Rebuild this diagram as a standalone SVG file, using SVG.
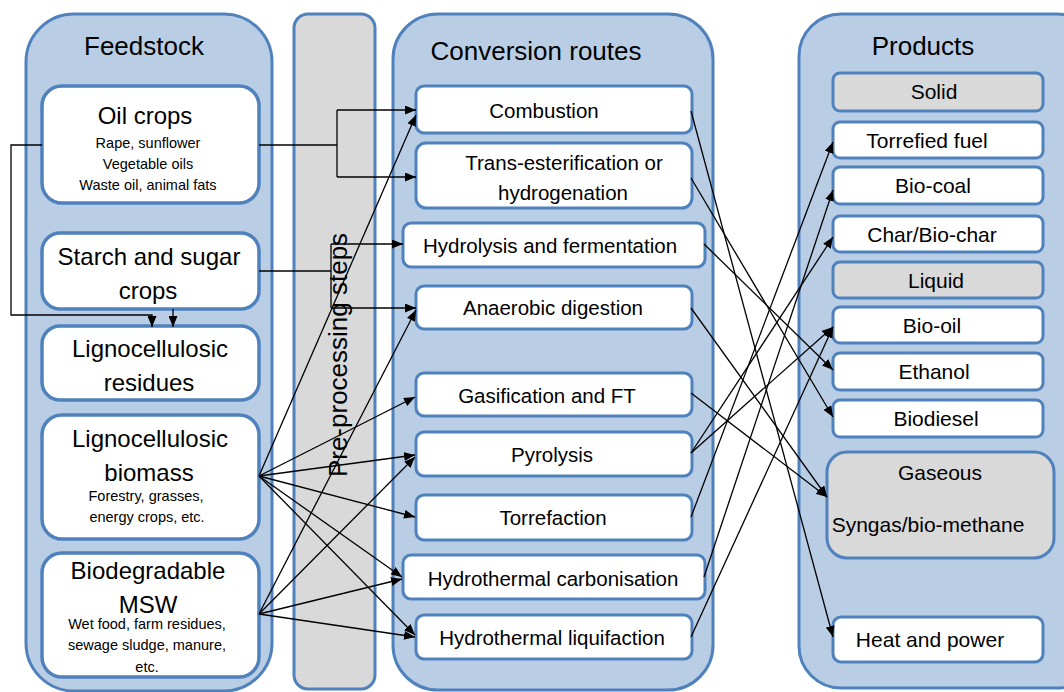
<svg xmlns="http://www.w3.org/2000/svg" width="1064" height="692" viewBox="0 0 1064 692">
<style>
text{font-family:"Liberation Sans",Arial,sans-serif;fill:#000;text-anchor:middle}
.cont{fill:#B9CDE5;stroke:#4F81BD;stroke-width:3}
.pre{fill:#D9D9D9;stroke:#4F81BD;stroke-width:3}
.fn{fill:#fff;stroke:#4F81BD;stroke-width:3.5}
.cn{fill:#fff;stroke:#4F81BD;stroke-width:3}
.pg{fill:#D9D9D9;stroke:#4F81BD;stroke-width:3}
.title{font-size:26px}
.fname{font-size:24px}
.fsub{font-size:14.5px}
.ct{font-size:20.5px}
.pt{font-size:21px}
.ln{fill:none;stroke:#000;stroke-width:1.3}
</style>
<defs>
<marker id="ah" markerWidth="11" markerHeight="9" refX="11" refY="4.5" orient="auto" markerUnits="userSpaceOnUse"><path d="M0,0 L11,4.5 L0,9 z" fill="#000"/></marker>
</defs>
<rect width="1064" height="692" fill="#fff"/>
<g id="feedstock">
<rect class="cont" x="26" y="14" width="246" height="677" rx="48"/>
<text class="title" x="144" y="55">Feedstock</text>
</g>
<g id="preprocessing">
<rect class="pre" x="294" y="14" width="81" height="675" rx="14"/>
<text class="title" transform="translate(347,355) rotate(-90)">Pre-processing steps</text>
</g>
<g id="conversion">
<rect class="cont" x="393" y="14" width="320" height="676" rx="45"/>
<text class="title" x="536" y="60">Conversion routes</text>
</g>
<g id="products">
<rect class="cont" x="799" y="14" width="300" height="674" rx="42"/>
<text class="title" x="923" y="55">Products</text>
</g>
<g id="oil-crops">
<rect class="fn" x="42" y="86" width="217" height="117" rx="20"/>
<text class="fname" x="145" y="124">Oil crops</text>
<text class="fsub" x="148" y="148">Rape, sunflower</text>
<text class="fsub" x="148" y="169">Vegetable oils</text>
<text class="fsub" x="148" y="190">Waste oil, animal fats</text>
</g>
<g id="starch-sugar">
<rect class="fn" x="42" y="233" width="217" height="76" rx="18"/>
<text class="fname" x="149" y="265">Starch and sugar</text>
<text class="fname" x="148" y="299">crops</text>
</g>
<g id="ligno-residues">
<rect class="fn" x="42" y="326" width="217" height="74" rx="18"/>
<text class="fname" x="150" y="357">Lignocellulosic</text>
<text class="fname" x="149" y="391">residues</text>
</g>
<g id="ligno-biomass">
<rect class="fn" x="42" y="415" width="217" height="124" rx="20"/>
<text class="fname" x="150" y="447">Lignocellulosic</text>
<text class="fname" x="149" y="481">biomass</text>
<text class="fsub" x="146" y="501">Forestry, grasses,</text>
<text class="fsub" x="147" y="522">energy crops, etc.</text>
</g>
<g id="msw">
<rect class="fn" x="42" y="553" width="217" height="124" rx="20"/>
<text class="fname" x="148" y="579">Biodegradable</text>
<text class="fname" x="148" y="613">MSW</text>
<text class="fsub" x="147" y="629">Wet food, farm residues,</text>
<text class="fsub" x="147" y="650">sewage sludge, manure,</text>
<text class="fsub" x="147" y="672">etc.</text>
</g>
<g id="combustion">
<rect class="cn" x="416" y="86" width="276" height="47" rx="8"/>
<text class="ct" x="544" y="118">Combustion</text>
</g>
<g id="trans-esterification">
<rect class="cn" x="416" y="143" width="276" height="65" rx="10"/>
<text class="ct" x="564" y="170">Trans-esterification or</text>
<text class="ct" x="563" y="200">hydrogenation</text>
</g>
<g id="hydrolysis">
<rect class="cn" x="403" y="223" width="302" height="44" rx="8"/>
<text class="ct" x="550" y="253">Hydrolysis and fermentation</text>
</g>
<g id="anaerobic">
<rect class="cn" x="416" y="286" width="276" height="43" rx="8"/>
<text class="ct" x="553" y="315">Anaerobic digestion</text>
</g>
<g id="gasification">
<rect class="cn" x="416" y="373" width="276" height="43" rx="8"/>
<text class="ct" x="547" y="403">Gasification and FT</text>
</g>
<g id="pyrolysis">
<rect class="cn" x="416" y="432" width="276" height="44" rx="8"/>
<text class="ct" x="552" y="462">Pyrolysis</text>
</g>
<g id="torrefaction">
<rect class="cn" x="416" y="495" width="276" height="45" rx="8"/>
<text class="ct" x="553" y="525">Torrefaction</text>
</g>
<g id="htc">
<rect class="cn" x="403" y="555" width="302" height="44" rx="8"/>
<text class="ct" x="553" y="586">Hydrothermal carbonisation</text>
</g>
<g id="htl">
<rect class="cn" x="416" y="615" width="276" height="44" rx="8"/>
<text class="ct" x="552" y="645">Hydrothermal liquifaction</text>
</g>
<g id="solid">
<rect class="pg" x="833" y="73" width="210" height="38" rx="7"/>
<text class="pt" x="934" y="99">Solid</text>
</g>
<g id="torrefied-fuel">
<rect class="cn" x="833" y="122" width="210" height="36" rx="7"/>
<text class="pt" x="927" y="148">Torrefied fuel</text>
</g>
<g id="bio-coal">
<rect class="cn" x="833" y="167" width="210" height="37" rx="7"/>
<text class="pt" x="933" y="193">Bio-coal</text>
</g>
<g id="char">
<rect class="cn" x="833" y="216" width="210" height="36" rx="7"/>
<text class="pt" x="932" y="242">Char/Bio-char</text>
</g>
<g id="liquid">
<rect class="pg" x="833" y="262" width="210" height="36" rx="7"/>
<text class="pt" x="936" y="288">Liquid</text>
</g>
<g id="bio-oil">
<rect class="cn" x="833" y="307" width="210" height="36" rx="7"/>
<text class="pt" x="932" y="333">Bio-oil</text>
</g>
<g id="ethanol">
<rect class="cn" x="833" y="353" width="210" height="37" rx="7"/>
<text class="pt" x="934" y="379">Ethanol</text>
</g>
<g id="biodiesel">
<rect class="cn" x="833" y="400" width="210" height="37" rx="7"/>
<text class="pt" x="936" y="426">Biodiesel</text>
</g>
<g id="gaseous">
<rect class="pg" x="827" y="452" width="227" height="106" rx="20"/>
<text class="pt" x="940" y="480">Gaseous</text>
<text class="pt" x="928" y="532">Syngas/bio-methane</text>
</g>
<g id="heat-power">
<rect class="cn" x="833" y="617" width="210" height="45" rx="8"/>
<text class="pt" x="930" y="647">Heat and power</text>
</g>
<g id="connectors">
<polyline class="ln" points="42,145 11,145 11,315 152,315 152,327" marker-end="url(#ah)"/>
<line class="ln" x1="173" y1="309" x2="173" y2="327" marker-end="url(#ah)"/>
<polyline class="ln" points="259,145 337,145"/>
<polyline class="ln" points="337,110 337,177"/>
<line class="ln" x1="337" y1="110" x2="416" y2="110" marker-end="url(#ah)"/>
<line class="ln" x1="337" y1="177" x2="416" y2="177" marker-end="url(#ah)"/>
<polyline class="ln" points="259,271 331,271"/>
<polyline class="ln" points="331,244 331,308"/>
<line class="ln" x1="331" y1="244" x2="403" y2="244" marker-end="url(#ah)"/>
<line class="ln" x1="331" y1="308" x2="416" y2="308" marker-end="url(#ah)"/>
<line class="ln" x1="259" y1="476" x2="416" y2="115" marker-end="url(#ah)"/>
<line class="ln" x1="259" y1="476" x2="415" y2="397" marker-end="url(#ah)"/>
<line class="ln" x1="259" y1="476" x2="415" y2="455" marker-end="url(#ah)"/>
<line class="ln" x1="259" y1="476" x2="415" y2="517" marker-end="url(#ah)"/>
<line class="ln" x1="259" y1="476" x2="402" y2="577" marker-end="url(#ah)"/>
<line class="ln" x1="259" y1="476" x2="415" y2="635" marker-end="url(#ah)"/>
<line class="ln" x1="259" y1="614" x2="416" y2="310" marker-end="url(#ah)"/>
<line class="ln" x1="259" y1="614" x2="415" y2="457" marker-end="url(#ah)"/>
<line class="ln" x1="259" y1="614" x2="402" y2="579" marker-end="url(#ah)"/>
<line class="ln" x1="259" y1="614" x2="415" y2="637" marker-end="url(#ah)"/>
<line class="ln" x1="691" y1="111" x2="833" y2="637" marker-end="url(#ah)"/>
<line class="ln" x1="691" y1="178" x2="833" y2="417" marker-end="url(#ah)"/>
<line class="ln" x1="704" y1="244" x2="833" y2="370" marker-end="url(#ah)"/>
<line class="ln" x1="691" y1="308" x2="827" y2="497" marker-end="url(#ah)"/>
<line class="ln" x1="691" y1="393" x2="827" y2="497" marker-end="url(#ah)"/>
<line class="ln" x1="691" y1="453" x2="833" y2="237" marker-end="url(#ah)"/>
<line class="ln" x1="691" y1="453" x2="833" y2="327" marker-end="url(#ah)"/>
<line class="ln" x1="691" y1="517" x2="833" y2="142" marker-end="url(#ah)"/>
<line class="ln" x1="704" y1="577" x2="833" y2="190" marker-end="url(#ah)"/>
<line class="ln" x1="691" y1="637" x2="833" y2="327" marker-end="url(#ah)"/>
</g>
</svg>
